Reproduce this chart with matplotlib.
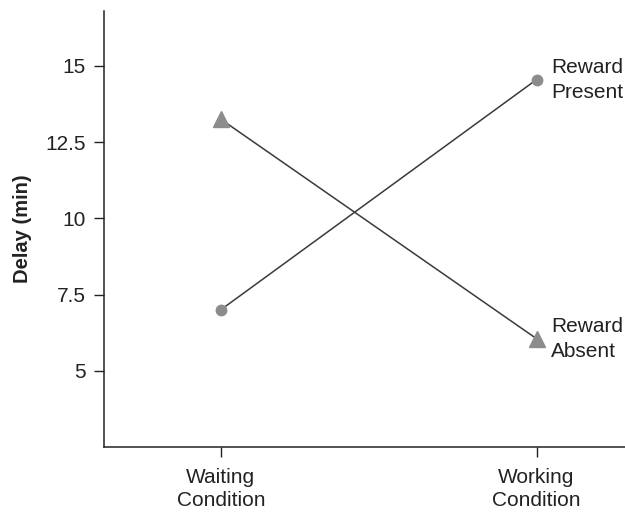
import matplotlib

matplotlib.use("Agg")
import matplotlib.pyplot as plt

conditions = ["Waiting\nCondition", "Working\nCondition"]
reward_present = [7.0, 14.55]
reward_absent = [13.25, 6.05]
series_labels = ["Reward\nPresent", "Reward\nAbsent"]
yticks = [5, 7.5, 10, 12.5, 15]
ytick_labels = ["5", "7.5", "10", "12.5", "15"]

plt.rcParams["font.family"] = ["Liberation Sans", "DejaVu Sans"]

fig = plt.figure(figsize=(6.25, 5.12), dpi=100)
ax = fig.add_axes([0.1664, 0.127, 0.8336, 0.8516])

x = list(range(len(conditions)))
ax.plot(x, reward_present, color="#3a3a3a", lw=1.1, zorder=1)
ax.plot(x, reward_absent, color="#3a3a3a", lw=1.1, zorder=1)
ax.plot(x, reward_present, "o", ms=7.5, color="#8c8c8c", mec="#8c8c8c", zorder=2)
ax.plot(x, reward_absent, "^", ms=11, color="#8c8c8c", mec="#8c8c8c", zorder=2)

ax.text(x[-1] + 0.045, reward_present[-1], series_labels[0], fontsize=15,
        va="center", ha="left", linespacing=1.4, color="#222")
ax.text(x[-1] + 0.045, reward_absent[-1], series_labels[1], fontsize=15,
        va="center", ha="left", linespacing=1.4, color="#222")

ax.set_xlim(-0.37, 1.28)
ax.set_ylim(2.5, 16.8)
ax.set_xticks(x)
ax.set_xticklabels(conditions, fontsize=15, linespacing=1.3, color="#222")
ax.set_yticks(yticks)
ax.set_yticklabels(ytick_labels, fontsize=15, color="#222")
ax.tick_params(axis="both", length=7, width=1, color="#222", pad=6)
ax.tick_params(axis="x", pad=8)
ax.set_ylabel("Delay (min)", fontsize=14.5, fontweight="bold", labelpad=10,
              color="#222")

for side in ["top", "right"]:
    ax.spines[side].set_visible(False)
for side in ["left", "bottom"]:
    ax.spines[side].set_linewidth(1.1)
    ax.spines[side].set_color("#222")

fig.savefig("out.png", dpi=100)
